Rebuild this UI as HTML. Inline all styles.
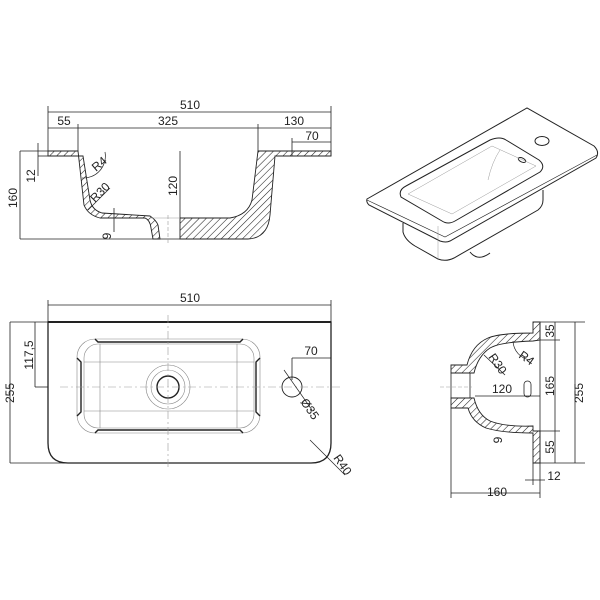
<!DOCTYPE html>
<html><head><style>body{margin:0;background:#fff}svg{display:block}text{font-family:"Liberation Sans",sans-serif;fill:#222}</style></head><body>
<svg width="600" height="600" viewBox="0 0 600 600" xmlns="http://www.w3.org/2000/svg">
<defs>
<pattern id="h" width="5" height="5" patternUnits="userSpaceOnUse" patternTransform="rotate(45)"><line x1="0" y1="0" x2="0" y2="5" stroke="#222" stroke-width="1.1"/></pattern>
</defs>
<g fill="none" stroke="#222" stroke-width="0.8">
<line x1="48" y1="106" x2="48" y2="151"/><line x1="331" y1="106" x2="331" y2="156"/>
<line x1="48" y1="112" x2="331" y2="112"/>
<line x1="48" y1="128" x2="331" y2="128"/>
<line x1="78" y1="124" x2="78" y2="151"/><line x1="258" y1="124" x2="258" y2="151"/>
<line x1="292" y1="142" x2="331" y2="142"/><line x1="292" y1="138" x2="292" y2="156"/>
<line x1="20" y1="151" x2="48" y2="151"/>
<line x1="20" y1="239" x2="190" y2="239"/>
<line x1="20" y1="151" x2="20" y2="239"/>
<line x1="38" y1="143" x2="38" y2="176"/><line x1="38" y1="156" x2="48" y2="156"/>
<line x1="180" y1="151" x2="180" y2="218"/>
<line x1="114" y1="208" x2="114" y2="232"/>
</g>
<path d="M48 151 H78 L84 205 Q88 215 100 218 H145 Q150 220 151 228 L153 239 H160 L158 225 Q156 220 150 216 L102 213 Q92 210 90 200 L83 156 H48 Z" fill="url(#h)" stroke="#222" stroke-width="0.9"/>
<path d="M180 239 H248 Q268 238 270 215 L275 156 H331 V151 H258 L252 200 Q248 215 230 218 H180 Z" fill="url(#h)" stroke="#222" stroke-width="0.9"/>
<line x1="150" y1="218" x2="180" y2="218" stroke="#999" stroke-width="0.6"/>
<line x1="168" y1="215" x2="168" y2="245" stroke="#999" stroke-width="0.6" stroke-dasharray="4,2"/>
<path d="M82 178 A22 22 0 0 0 105 152" fill="none" stroke="#222" stroke-width="0.7"/>
<line x1="88" y1="210" x2="110" y2="188" stroke="#222" stroke-width="0.7"/>
<text x="190" y="109" font-size="12" text-anchor="middle">510</text>
<text x="64" y="125" font-size="12" text-anchor="middle">55</text>
<text x="168" y="125" font-size="12" text-anchor="middle">325</text>
<text x="294" y="125" font-size="12" text-anchor="middle">130</text>
<text x="312" y="140" font-size="12" text-anchor="middle">70</text>
<text font-size="12" transform="translate(17,198) rotate(-90)" text-anchor="middle">160</text>
<text font-size="12" transform="translate(35,176) rotate(-90)" text-anchor="middle">12</text>
<text font-size="12" transform="translate(177,186) rotate(-90)" text-anchor="middle">120</text>
<text font-size="12" transform="translate(111,236) rotate(-90)" text-anchor="middle">9</text>
<text font-size="12" transform="translate(96,172) rotate(-40)">R4</text>
<text font-size="12" transform="translate(95,203) rotate(-45)">R30</text>

<!-- Isometric -->
<g fill="none" stroke="#222" stroke-width="1">
<path d="M367 199 L527 108 L594 146 Q600 152 596 158 L450 241 Q446 243 440 241 L369 205 Q366 202 367 199 Z"/>
<path d="M367 200 L445 237 L597 155" stroke-width="0.6"/>
<path d="M401 197 Q398 190 406 186 L490 140 Q500 136 506 140 L539 160 Q546 166 540 172 L455 221 Q448 225 442 221 Z"/>
<path d="M403 223 L403 232 Q405 240 415 246 L438 259 Q446 262 454 258 L538 210 Q543 206 543 200 L543 190" />
<path d="M470 252 Q478 262 490 253" />
<ellipse cx="542" cy="141" rx="7" ry="4.5"/>
<ellipse cx="522" cy="160" rx="4" ry="2" transform="rotate(25 522 160)"/>
</g>
<g fill="none" stroke="#999" stroke-width="0.5">
<path d="M408 194 L492 146 L536 166 L452 214 Z"/>
<path d="M488 180 Q492 162 500 150"/>
<line x1="438" y1="226" x2="438" y2="258"/>
</g>

<!-- Plan view -->
<g fill="none" stroke="#222" stroke-width="0.8">
<line x1="48" y1="300" x2="48" y2="322"/><line x1="331" y1="300" x2="331" y2="322"/>
<line x1="48" y1="305" x2="331" y2="305"/>
<line x1="10" y1="322" x2="48" y2="322"/><line x1="10" y1="463" x2="68" y2="463"/>
<line x1="10" y1="322" x2="10" y2="463"/>
<line x1="35" y1="322" x2="35" y2="387"/><line x1="35" y1="387" x2="48" y2="387"/>
<line x1="292" y1="358" x2="331" y2="358"/><line x1="292" y1="358" x2="292" y2="380"/>
</g>
<path d="M48 322 H331 V443 Q331 463 311 463 H68 Q48 463 48 443 Z" fill="none" stroke="#222" stroke-width="1.3"/>
<line x1="48" y1="322" x2="331" y2="322" stroke="#222" stroke-width="2"/>
<g fill="none" stroke="#888" stroke-width="0.6">
<rect x="77" y="339" width="183" height="94" rx="18"/>
<rect x="84" y="344" width="170" height="84" rx="14"/>
<line x1="84" y1="362" x2="254" y2="362"/><line x1="84" y1="411" x2="254" y2="411"/>
<line x1="100" y1="344" x2="100" y2="428"/><line x1="237" y1="344" x2="237" y2="428"/>
<circle cx="168" cy="387" r="22"/><circle cx="168" cy="387" r="17"/>
</g>
<g stroke="#222" stroke-width="1.4" fill="none">
<path d="M95 339 L98 342 H240 L243 339"/>
<path d="M95 433 L98 430 H240 L243 433"/>
<path d="M77 358 L81 362 V412 L77 416"/>
<path d="M260 358 L256 362 V412 L260 416"/>
<circle cx="168" cy="387" r="11"/>
</g>
<circle cx="292" cy="387" r="10" fill="none" stroke="#222" stroke-width="0.9"/>
<g stroke="#999" stroke-width="0.6" stroke-dasharray="8,3,2,3">
<line x1="60" y1="387" x2="340" y2="387"/><line x1="168" y1="315" x2="168" y2="470"/>
</g>
<line x1="284" y1="370" x2="312" y2="410" stroke="#222" stroke-width="0.7"/>
<line x1="310" y1="440" x2="345" y2="475" stroke="#222" stroke-width="0.7"/>
<text x="190" y="302" font-size="12" text-anchor="middle">510</text>
<text x="311" y="355" font-size="12" text-anchor="middle">70</text>
<text font-size="12" transform="translate(14,393) rotate(-90)" text-anchor="middle">255</text>
<text font-size="12" transform="translate(33,355) rotate(-90)" text-anchor="middle">117,5</text>
<text font-size="12" transform="translate(300,402) rotate(55)">Ø35</text>
<text font-size="12" transform="translate(333,458) rotate(55)">R40</text>

<!-- Side view -->
<g fill="none" stroke="#222" stroke-width="0.8">
<line x1="540" y1="322" x2="585" y2="322"/><line x1="540" y1="463" x2="585" y2="463"/>
<line x1="575" y1="322" x2="575" y2="463"/>
<line x1="540" y1="340" x2="560" y2="340"/><line x1="540" y1="431" x2="560" y2="431"/>
<line x1="555" y1="322" x2="555" y2="463"/>
<line x1="451" y1="408" x2="451" y2="498"/><line x1="540" y1="463" x2="540" y2="498"/>
<line x1="451" y1="493" x2="540" y2="493"/>
<line x1="533" y1="463" x2="533" y2="485"/>
<line x1="525" y1="480" x2="545" y2="480"/>
<line x1="540" y1="322" x2="540" y2="463"/>
<line x1="475" y1="396" x2="540" y2="396"/>
<rect x="524" y="381" width="7" height="16" rx="3.5"/>
<line x1="484" y1="355" x2="505" y2="375"/>
</g>
<path d="M533 322 H540 V340 L533 341 Q500 342 490 348 Q478 356 474 373 H451 V365 H467 Q472 345 488 338 Q500 333 533 333 Z" fill="url(#h)" stroke="#222" stroke-width="0.9"/>
<path d="M451 398 H474 Q478 415 490 421 Q505 427 533 426 V431 L540 431 V463 H533 V433 Q502 433 486 428 Q472 422 468 408 H451 Z" fill="url(#h)" stroke="#222" stroke-width="0.9"/>
<rect x="451" y="373" width="19" height="25" fill="none" stroke="#222" stroke-width="0.8"/>
<line x1="440" y1="387" x2="472" y2="387" stroke="#999" stroke-width="0.6" stroke-dasharray="4,2"/>
<path d="M513 341 A20 20 0 0 0 530 360" fill="none" stroke="#222" stroke-width="0.7"/>
<text x="502" y="393" font-size="12" text-anchor="middle">120</text>
<text x="497" y="496" font-size="12" text-anchor="middle">160</text>
<text x="554" y="480" font-size="12" text-anchor="middle">12</text>
<text font-size="12" transform="translate(554,331) rotate(-90)" text-anchor="middle">35</text>
<text font-size="12" transform="translate(554,386) rotate(-90)" text-anchor="middle">165</text>
<text font-size="12" transform="translate(554,447) rotate(-90)" text-anchor="middle">55</text>
<text font-size="12" transform="translate(583,393) rotate(-90)" text-anchor="middle">255</text>
<text font-size="12" transform="translate(502,440) rotate(-90)" text-anchor="middle">9</text>
<text font-size="12" transform="translate(488,357) rotate(55)">R30</text>
<text font-size="12" transform="translate(518,357) rotate(35)">R4</text>
</svg>
</body></html>
